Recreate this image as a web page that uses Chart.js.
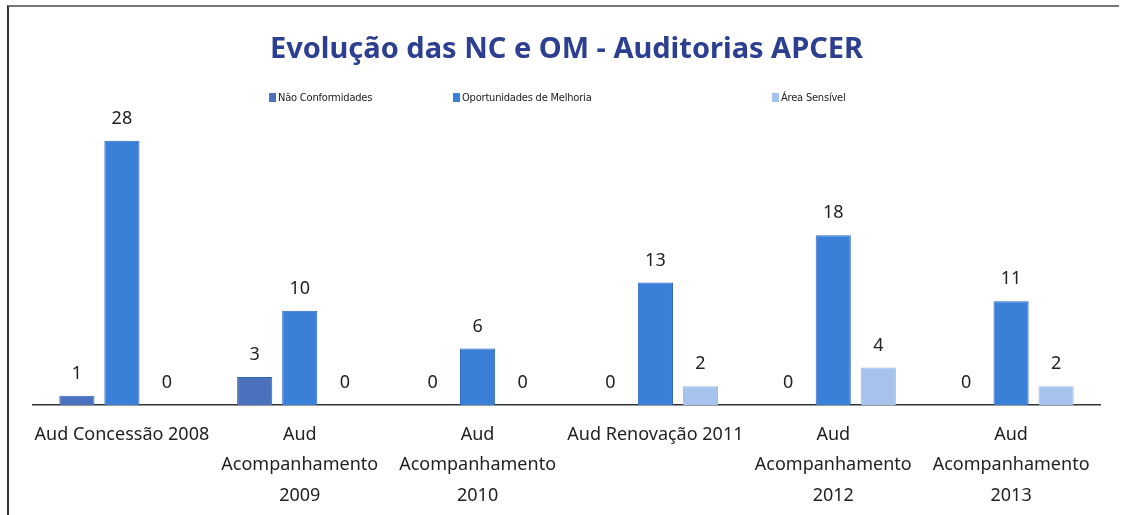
<!DOCTYPE html>
<html>
<head>
<meta charset="utf-8">
<script src="https://cdn.jsdelivr.net/npm/chart.js@4"></script>
<style>
  html, body { margin: 0; padding: 0; background: #fff; overflow: hidden; }
  #frame {
    position: absolute; left: 7px; top: 5px; width: 1110px; height: 515px;
    border-top: 2px solid #777; border-left: 2px solid #333;
  }
  #wrap { position: absolute; left: 0; top: 0; width: 1123px; height: 515px; }
  #legend span.item {
    position: absolute; top: 91px; font: 11px 'DejaVu Sans Condensed', 'Noto Sans', sans-serif;
    color: #222; white-space: nowrap; letter-spacing: -0.2px;
  }
  #legend i { display: inline-block; width: 7px; height: 9px; margin-right: 2px; vertical-align: -1px; }
</style>
</head>
<body>
<div id="frame"></div>
<div id="wrap"><canvas id="auditChart" width="1123" height="515"></canvas></div>
<div id="legend"></div>
<script>
// Categories and values
const categories = [
    'Aud Concessão 2008',
    ['Aud', 'Acompanhamento', '2009'],
    ['Aud', 'Acompanhamento', '2010'],
    'Aud Renovação 2011',
    ['Aud', 'Acompanhamento', '2012'],
    ['Aud', 'Acompanhamento', '2013']
];
const naoConformidades = [1, 3, 0, 0, 0, 0];
const oportunidadesMelhoria = [28, 10, 6, 13, 18, 11];
const areaSensivel = [0, 0, 0, 2, 4, 2];

const seriesNames = ['Não Conformidades', 'Oportunidades de Melhoria', 'Área Sensível'];
const seriesColors = ['#4a72bd', '#3b80d8', '#a6c3ee'];
const legendLeft = [269, 453, 772];

const fontFamily = '"Noto Sans", sans-serif';

// Value labels above each bar
const valueLabels = {
    id: 'valueLabels',
    afterDatasetsDraw(chart) {
        const ctx = chart.ctx;
        ctx.save();
        ctx.font = '18px ' + fontFamily;
        ctx.fillStyle = '#222';
        ctx.textAlign = 'center';
        ctx.textBaseline = 'bottom';
        chart.data.datasets.forEach((ds, i) => {
            chart.getDatasetMeta(i).data.forEach((bar, j) => {
                ctx.fillText(ds.data[j], bar.x, bar.y - 13);
            });
        });
        ctx.restore();
    }
};

const ctx = document.getElementById('auditChart').getContext('2d');
const auditChart = new Chart(ctx, {
    type: 'bar',
    data: {
        labels: categories,
        datasets: seriesNames.map((name, i) => ({
            label: name,
            data: [naoConformidades, oportunidadesMelhoria, areaSensivel][i],
            backgroundColor: seriesColors[i],
            borderColor: i === 2 ? '#9bb8e6' : '#2f66c0',
            borderWidth: 1
        }))
    },
    options: {
        responsive: false,
        animation: false,
        layout: { padding: { left: 33, right: 23, top: 24, bottom: -2 } },
        datasets: {
            bar: { categoryPercentage: 0.76, barPercentage: 0.78 }
        },
        plugins: {
            legend: { display: false },
            tooltip: { enabled: false },
            title: {
                display: true,
                text: 'Evolução das NC e OM - Auditorias APCER',
                color: '#2c3f91',
                font: { family: fontFamily, size: 29, weight: 'bold' },
                padding: { top: 8, bottom: 58 }
            }
        },
        scales: {
            y: {
                display: false,
                min: 0,
                max: 29.7
            },
            x: {
                grid: { display: false },
                border: { display: true, color: '#333', width: 1.5 },
                ticks: {
                    color: '#222',
                    padding: 6,
                    maxRotation: 0,
                    autoSkip: false,
                    font: { family: fontFamily, size: 18, lineHeight: 1.7 }
                }
            }
        }
    },
    plugins: [valueLabels]
});

// HTML legend built from the series
const legend = document.getElementById('legend');
seriesNames.forEach((name, i) => {
    const item = document.createElement('span');
    item.className = 'item';
    item.style.left = legendLeft[i] + 'px';
    item.innerHTML = '<i style="background:' + seriesColors[i] + '"></i>' + name;
    legend.appendChild(item);
});
</script>
</body>
</html>
